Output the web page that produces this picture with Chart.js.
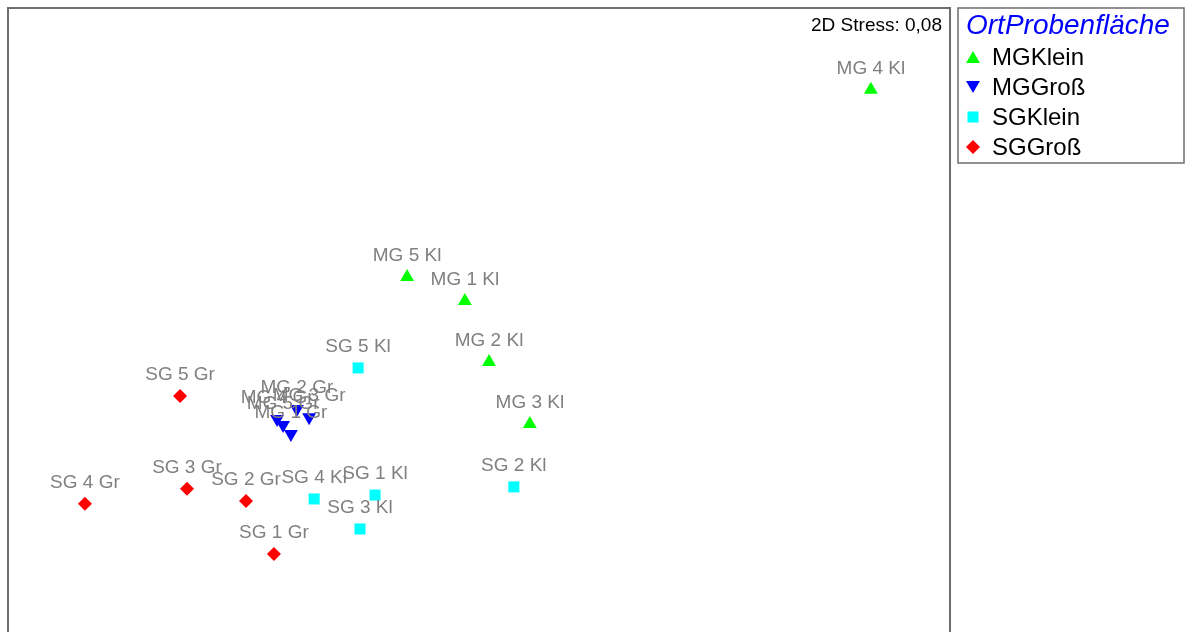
<!DOCTYPE html>
<html>
<head>
<meta charset="utf-8">
<script src="https://cdn.jsdelivr.net/npm/chart.js@4/dist/chart.umd.min.js"></script>
<style>
  html, body { margin: 0; padding: 0; background: #fff; overflow: hidden; height: 632px; }
  #wrap { width: 1185px; height: 668px; }
</style>
</head>
<body>
<div id="wrap"><canvas id="c" width="1185" height="668"></canvas></div>
<script>
// NMDS ordination scores per sample group
const mgKleinNames = ['MG 1 Kl', 'MG 2 Kl', 'MG 3 Kl', 'MG 4 Kl', 'MG 5 Kl'];
const mgKleinX = [-0.045, 0.032, 0.162, 1.248, -0.229];
const mgKleinY = [0.101, -0.086, -0.276, 0.749, 0.175];

const mgGrossNames = ['MG 1 Gr', 'MG 2 Gr', 'MG 3 Gr', 'MG 4 Gr', 'MG 5 Gr'];
const mgGrossX = [-0.599, -0.580, -0.541, -0.643, -0.624];
const mgGrossY = [-0.307, -0.230, -0.255, -0.261, -0.279];

const sgKleinNames = ['SG 1 Kl', 'SG 2 Kl', 'SG 3 Kl', 'SG 4 Kl', 'SG 5 Kl'];
const sgKleinX = [-0.331, 0.111, -0.379, -0.525, -0.385];
const sgKleinY = [-0.494, -0.469, -0.598, -0.506, -0.104];

const sgGrossNames = ['SG 1 Gr', 'SG 2 Gr', 'SG 3 Gr', 'SG 4 Gr', 'SG 5 Gr'];
const sgGrossX = [-0.653, -0.742, -0.930, -1.255, -0.952];
const sgGrossY = [-0.675, -0.512, -0.475, -0.521, -0.190];

const groupNames = ['MGKlein', 'MGGroß', 'SGKlein', 'SGGroß'];
const legendTitle = 'OrtProbenfläche';
const stressText = '2D Stress: 0,08';

const FONT = "'Liberation Sans', Arial, sans-serif";

function points(xs, ys, names) {
  return xs.map((x, i) => ({ x: x, y: ys[i], name: names[i] }));
}

const datasets = [
  { label: groupNames[0], data: points(mgKleinX, mgKleinY, mgKleinNames),
    pointStyle: 'triangle', rotation: 0, pointRadius: 8, backgroundColor: '#00ff00' },
  { label: groupNames[1], data: points(mgGrossX, mgGrossY, mgGrossNames),
    pointStyle: 'triangle', rotation: 180, pointRadius: 8, backgroundColor: '#0000ff' },
  { label: groupNames[2], data: points(sgKleinX, sgKleinY, sgKleinNames),
    pointStyle: 'rect', rotation: 0, pointRadius: 7.8, backgroundColor: '#00ffff' },
  { label: groupNames[3], data: points(sgGrossX, sgGrossY, sgGrossNames),
    pointStyle: 'rectRot', rotation: 0, pointRadius: 7, backgroundColor: '#ff0000' }
].map(d => Object.assign(d, { borderWidth: 0, borderColor: d.backgroundColor, pointHoverRadius: d.pointRadius }));

// Frame, sample labels, stress note and the legend box
const decorations = {
  id: 'decorations',
  afterDatasetsDraw(chart) {
    const ctx = chart.ctx;
    const a = chart.chartArea;
    ctx.save();

    // sample labels above each marker
    ctx.font = '19px ' + FONT;
    ctx.fillStyle = '#808080';
    ctx.textAlign = 'center';
    ctx.textBaseline = 'middle';
    chart.data.datasets.forEach((ds, di) => {
      const meta = chart.getDatasetMeta(di);
      meta.data.forEach((el, i) => {
        ctx.fillText(ds.data[i].name, el.x, el.y - 21.5);
      });
    });

    // plot frame
    ctx.strokeStyle = '#6e6e6e';
    ctx.lineWidth = 2;
    ctx.beginPath();
    ctx.moveTo(a.left, a.bottom);
    ctx.lineTo(a.left, a.top);
    ctx.lineTo(a.right, a.top);
    ctx.lineTo(a.right, a.bottom);
    ctx.stroke();

    // stress value
    ctx.font = '19px ' + FONT;
    ctx.fillStyle = '#000';
    ctx.textAlign = 'right';
    ctx.textBaseline = 'alphabetic';
    ctx.fillText(stressText, a.right - 8, 31);

    // legend
    const lx = 958, ly = 8, lw = 226, lh = 155;
    ctx.strokeStyle = '#6e6e6e';
    ctx.lineWidth = 1.5;
    ctx.strokeRect(lx, ly, lw, lh);
    ctx.font = 'italic 28px ' + FONT;
    ctx.fillStyle = '#0000ff';
    ctx.textAlign = 'left';
    ctx.fillText(legendTitle, 966, 34);
    ctx.font = '24px ' + FONT;
    chart.data.datasets.forEach((ds, di) => {
      const cy = 57 + di * 30;
      const my = ds.pointStyle === 'triangle' ? cy + (ds.rotation ? -2 : 2) : cy;
      ctx.fillStyle = ds.backgroundColor;
      ctx.strokeStyle = ds.backgroundColor;
      Chart.helpers.drawPoint(ctx, {
        pointStyle: ds.pointStyle, rotation: ds.rotation,
        radius: ds.pointRadius, borderWidth: 0
      }, 973, my);
      ctx.fillStyle = '#000';
      ctx.textBaseline = 'middle';
      ctx.fillText(ds.label, 992, cy + 1);
    });
    ctx.restore();
  }
};

new Chart(document.getElementById('c'), {
  type: 'scatter',
  data: { datasets: datasets },
  options: {
    responsive: false,
    animation: false,
    devicePixelRatio: 1,
    layout: { padding: { left: 8, top: 8, right: 235, bottom: 0 } },
    scales: {
      x: { type: 'linear', min: -1.5, max: 1.5, display: false },
      y: { type: 'linear', min: -1.0, max: 1.0, display: false }
    },
    plugins: {
      legend: { display: false },
      tooltip: { enabled: false }
    }
  },
  plugins: [decorations]
});
</script>
</body>
</html>
